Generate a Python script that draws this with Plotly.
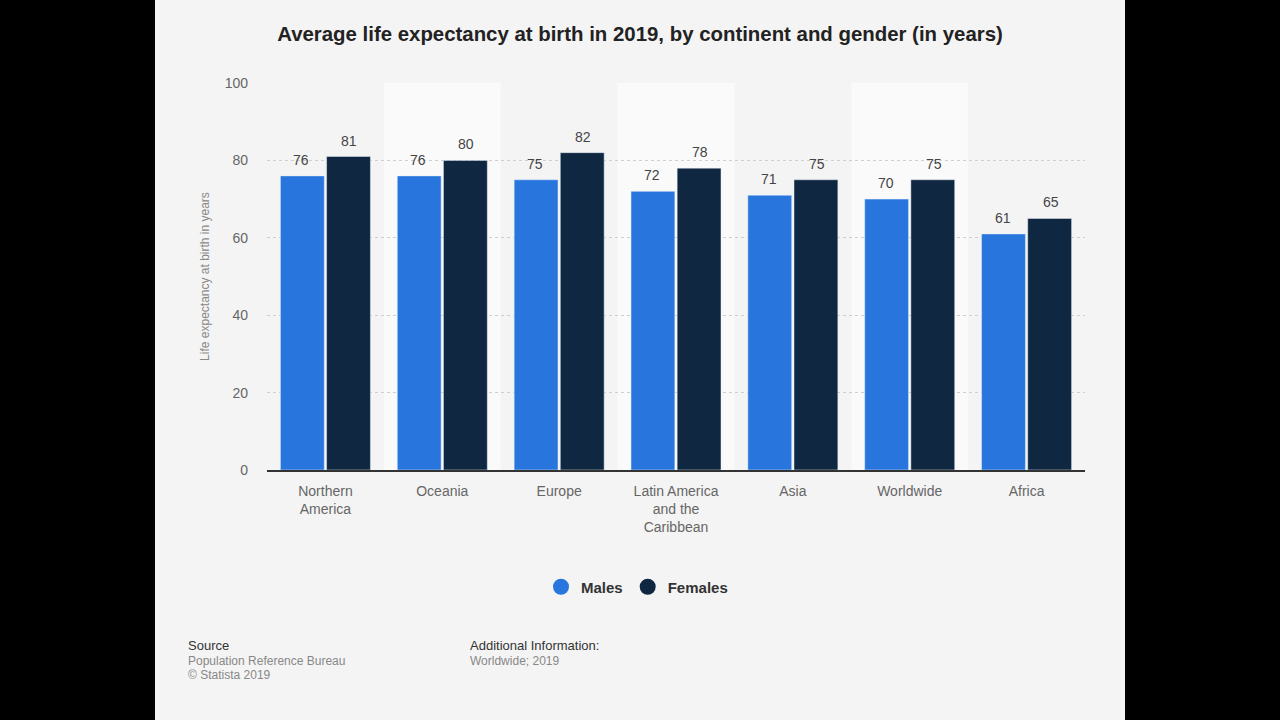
import plotly.graph_objects as go

categories = ["Northern<br>America", "Oceania", "Europe", "Latin America<br>and the<br>Caribbean", "Asia", "Worldwide", "Africa"]
males = [76, 76, 75, 72, 71, 70, 61]
females = [81, 80, 82, 78, 75, 75, 65]
y_ticks = [0, 20, 40, 60, 80, 100]

MALE_C = "#2876dd"
FEMALE_C = "#0f2741"
FONT = "Liberation Sans, Arial, sans-serif"

# plot area pixels
L, R, T, B = 267, 1085, 83, 470
W, H = R - L, B - T

def px(x):
    return (x - L) / W

def py(y):
    return (B - y) / H

fig = go.Figure()
fig.add_trace(go.Bar(x=categories, y=males, name="Males", marker=dict(color=MALE_C), showlegend=False))
fig.add_trace(go.Bar(x=categories, y=females, name="Females", marker=dict(color=FEMALE_C), showlegend=False))
# legend entries as circles
fig.add_trace(go.Scatter(x=[None], y=[None], mode="markers", name="<b>Males</b>",
                         marker=dict(color=MALE_C, size=16, symbol="circle")))
fig.add_trace(go.Scatter(x=[None], y=[None], mode="markers", name="<b>Females</b>",
                         marker=dict(color=FEMALE_C, size=16, symbol="circle")))

shapes = [
    dict(type="rect", xref="paper", yref="paper", x0=px(155), x1=px(1125), y0=py(730), y1=py(-10),
         fillcolor="#f4f4f4", line=dict(width=0), layer="below"),
]
for i in range(1, len(categories), 2):
    shapes.append(dict(type="rect", xref="x", yref="paper", x0=i - 0.5, x1=i + 0.5, y0=0, y1=1,
                       fillcolor="#fafafa", line=dict(width=0), layer="below"))

annotations = []
# value labels
for vals, shift in ((males, -24), (females, 24)):
    for c, v in zip(categories, vals):
        annotations.append(dict(x=c, y=v, xref="x", yref="y", text=str(v), showarrow=False,
                                xshift=shift, yshift=6, yanchor="bottom", xanchor="center",
                                font=dict(size=14, color="#444", family=FONT)))

annotations += [
    dict(text="Source", x=px(188), y=py(645), xref="paper", yref="paper", xanchor="left", yanchor="middle",
         showarrow=False, font=dict(size=13, color="#333", family=FONT), xshift=-2),
    dict(text="Population Reference Bureau", x=px(188), y=py(661), xref="paper", yref="paper", xanchor="left",
         yanchor="middle", showarrow=False, font=dict(size=12, color="#888", family=FONT), xshift=-2),
    dict(text="© Statista 2019", x=px(188), y=py(675), xref="paper", yref="paper", xanchor="left",
         yanchor="middle", showarrow=False, font=dict(size=12, color="#888", family=FONT), xshift=-2),
    dict(text="Additional Information:", x=px(470), y=py(645), xref="paper", yref="paper", xanchor="left",
         yanchor="middle", showarrow=False, font=dict(size=13, color="#333", family=FONT), xshift=-2),
    dict(text="Worldwide; 2019", x=px(470), y=py(661), xref="paper", yref="paper", xanchor="left",
         yanchor="middle", showarrow=False, font=dict(size=12, color="#888", family=FONT), xshift=-2),
]

fig.update_layout(
    width=1280, height=720,
    margin=dict(l=L, r=1280 - R, t=T, b=720 - B),
    paper_bgcolor="#000000", plot_bgcolor="rgba(0,0,0,0)",
    title=dict(text="<b>Average life expectancy at birth in 2019, by continent and gender (in years)</b>",
               x=640 / 1280, xanchor="center", y=1 - 34 / 720, yanchor="middle",
               font=dict(size=20.4, color="#222", family=FONT)),
    barmode="group", bargap=0.21, bargroupgap=0.05,
    shapes=shapes, annotations=annotations,
    legend=dict(orientation="h", x=px(637), y=py(587), xanchor="center", yanchor="middle",
                font=dict(size=15, color="#333", family=FONT), bgcolor="rgba(0,0,0,0)",
                itemsizing="trace"),
    font=dict(family=FONT),
    showlegend=True,
)
fig.update_xaxes(type="category", showline=True, linecolor="#333", linewidth=1.5, showgrid=False,
                 tickfont=dict(size=14, color="#666", family=FONT), ticks="", zeroline=False,
                 ticklabelstandoff=7)
fig.update_yaxes(range=[0, 100], tickvals=y_ticks, showgrid=True, gridcolor="#cfcfcf", griddash="dot",
                 gridwidth=1, zeroline=False, showline=False, ticks="",
                 ticklabelstandoff=18,
                 tickfont=dict(size=14, color="#666", family=FONT),
                 title=dict(text="Life expectancy at birth in years", standoff=12,
                            font=dict(size=12, color="#888", family=FONT)))

fig.write_html("out.html", config={"displayModeBar": False},
               post_script="document.body.style.margin='0';document.body.style.background='#000';")
